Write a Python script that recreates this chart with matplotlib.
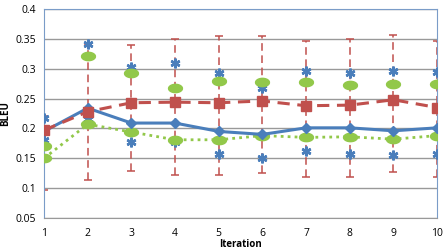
import matplotlib.pyplot as plt
import numpy as np
from matplotlib.path import Path

iterations = [1, 2, 3, 4, 5, 6, 7, 8, 9, 10]

# solid blue line (diamonds)
blue = [0.195, 0.234, 0.209, 0.209, 0.195, 0.190, 0.201, 0.201, 0.196, 0.201]
# red dashed line (squares) and its error bar ends
red = [0.197, 0.228, 0.243, 0.244, 0.243, 0.246, 0.238, 0.239, 0.248, 0.235]
red_lo = [0.097, 0.114, 0.128, 0.122, 0.122, 0.126, 0.118, 0.118, 0.127, 0.119]
red_hi = [0.220, 0.342, 0.340, 0.349, 0.355, 0.354, 0.347, 0.350, 0.356, 0.346]
# green dotted line (ovals)
green = [0.150, 0.207, 0.194, 0.181, 0.181, 0.188, 0.185, 0.186, 0.182, 0.188]
green_hi = [0.171, 0.321, 0.292, 0.267, 0.280, 0.277, 0.278, 0.272, 0.274, 0.274]
# blue asterisks
star_hi = [0.217, 0.341, 0.303, 0.310, 0.293, 0.267, 0.296, 0.293, 0.296, 0.295]
star_lo = [0.180, 0.215, 0.177, 0.177, 0.157, 0.150, 0.162, 0.158, 0.155, 0.157]

c_blue = "#4a7ebb"
c_red = "#c0504d"
c_green = "#92c84a"

t = np.linspace(0, 2 * np.pi, 40)
oval = Path(np.column_stack([np.cos(t), 0.6 * np.sin(t)]))

plt.rcParams['font.family'] = ['Open Sans', 'DejaVu Sans']

fig = plt.figure(figsize=(4.46, 2.5), dpi=100)
ax = fig.add_axes([0.0987, 0.128, 0.8813, 0.836])

yerr = [np.array(red) - np.array(red_lo), np.array(red_hi) - np.array(red)]
eb = ax.errorbar(iterations, red, yerr=yerr, fmt='none', ecolor=c_red,
                 elinewidth=1.1, capsize=3, capthick=1.1, zorder=2)
for lc in eb[2]:
    lc.set_linestyle((0, (5, 3)))

ax.plot(iterations, star_hi, linestyle='none', marker=(6, 2, 0), markersize=7,
        markeredgewidth=1.8, color=c_blue, zorder=3)
ax.plot(iterations, star_lo, linestyle='none', marker=(6, 2, 0), markersize=7,
        markeredgewidth=1.8, color=c_blue, zorder=3)
ax.plot(iterations, green_hi, linestyle='none', marker=oval, markersize=10,
        color=c_green, zorder=4)

ax.plot(iterations, blue, color=c_blue, linewidth=2.2, marker='D', markersize=5,
        zorder=5)
ax.plot(iterations, red, color=c_red, linewidth=2.2, linestyle=(0, (4, 2.5)),
        marker='s', markersize=7, zorder=6)
ax.plot(iterations, green, color=c_green, linewidth=2, linestyle=(0, (1, 1.5)),
        marker=oval, markersize=10, zorder=4)

ax.set_xlim(1, 10)
ax.set_ylim(0.05, 0.4)
ax.set_xticks(iterations)
yt = [0.05, 0.1, 0.15, 0.2, 0.25, 0.3, 0.35, 0.4]
ax.set_yticks(yt)
ax.set_yticklabels([str(v) for v in yt])
ax.tick_params(axis='y', length=0, labelsize=7.5, pad=6)
ax.tick_params(axis='x', length=0, labelsize=7.5, pad=7)
ax.grid(axis='y', color='#999999', linewidth=1)
ax.set_axisbelow(True)
for s in ['left', 'top', 'right']:
    ax.spines[s].set_color('#7a9cc8')
ax.spines['bottom'].set_color('#999999')

ax.set_xlabel("Iteration", fontsize=7, fontweight='bold', labelpad=0)
ax.set_ylabel("BLEU", fontsize=7, fontweight='bold', labelpad=3)

plt.savefig("out.png", dpi=100)
